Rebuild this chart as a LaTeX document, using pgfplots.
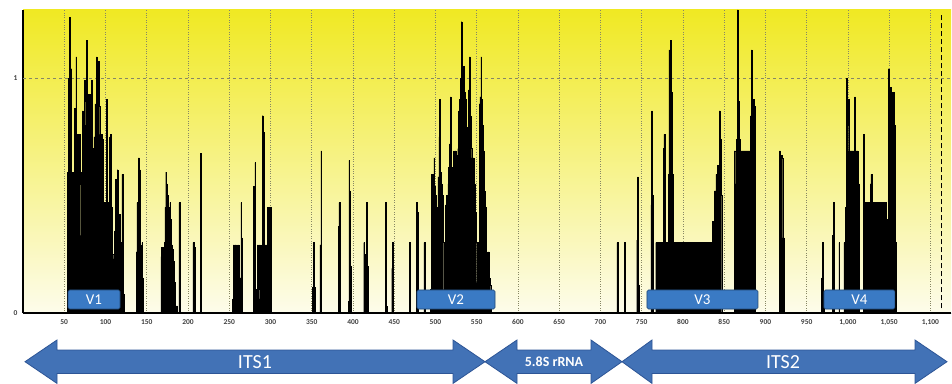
\documentclass[border=0pt]{standalone}
\usepackage{fontspec}
\setmainfont{Carlito}
\usepackage{pgfplots}
\pgfplotsset{compat=1.18}
\definecolor{arrowblue}{RGB}{66,114,182}
\definecolor{arrowedge}{RGB}{45,85,150}
\definecolor{vblue}{RGB}{58,122,196}
\definecolor{ytop}{RGB}{240,233,35}
\definecolor{ybot}{RGB}{253,252,235}
\definecolor{gridc}{RGB}{135,135,100}
\tikzset{vbox/.style={fill=vblue, draw=vblue!60!black, line width=0.6pt, rounded corners=1.5pt},
  vlab/.style={text=white, font=\fontsize{15}{16}\selectfont}}
\begin{document}
\begin{tikzpicture}
\path[use as bounding box] (0pt,0pt) rectangle (952pt,383pt);
\begin{axis}[
  at={(23pt,70pt)}, anchor=south west,
  scale only axis, width=928pt, height=303pt,
  xmin=0, xmax=1125, ymin=0, ymax=1.29,
  axis x line=bottom, axis y line=left,
  axis line style={-, black, line width=1.2pt},
  xtick={50,100,...,1100}, ytick={0,1},
  xmajorgrids, major grid style={gridc, dotted, line width=0.7pt},
  tick style={draw=none},
  ticklabel style={font=\fontsize{7.5}{8}\selectfont\bfseries, text=black!75},
  xticklabel style={yshift=-1pt},
  /pgf/number format/assume math mode=true,
  /pgf/number format/1000 sep={,},
  axis background/.style={top color=ytop, bottom color=ybot},
]
\draw[gridc, dashed, line width=0.7pt] (axis cs:0,1) -- (axis cs:1125,1);
\addplot[const plot mark left, fill=black, draw=black, line width=0.35pt] coordinates {
(0,0) (53,0) (54,0.6) (55,1.0) (56,1.26) (57,1.0) (58,1.04) (59,0.33) (60,0.6) (62,0.87) (63,0.7) (64,1.09) (65,0.76) (69,0.55) (70,0.33) (71,0.6) (72,0.86) (73,0.75) (74,0.99) (75,0.9) (76,0.8) (77,1.16) (78,0.93) (81,0.6) (82,0.93) (83,0.99) (84,0.7) (85,0.6) (86,0.75) (87,0.89) (88,0.8) (89,1.09) (90,0.93) (91,1.07) (92,0.88) (93,0.76) (96,0.74) (97,0.47) (101,0.91) (102,0.47) (105,0.75) (106,0.76) (107,0.45) (108,0.25) (110,0.23) (111,0.35) (112,0.57) (113,0.45) (114,0.61) (115,0.42) (118,0.3) (119,0.08) (120,0.59) (121,0.3) (122,0.08) (123,0)
(137,0.26) (138,0.47) (139,0.29) (140,0.66) (141,0.61) (142,0.29) (143,0.10) (144,0.30) (145,0.15) (146,0)
(167,0.24) (168,0.28) (170,0.18) (171,0.3) (172,0.45) (173,0.6) (174,0.55) (175,0.5) (176,0.45) (177,0.40) (178,0.47) (179,0.40) (180,0.29) (181,0.27) (182,0.22) (183,0.13) (184,0.08) (185,0) (186,0.03) (187,0) (189,0.47) (190,0.36) (191,0)
(206,0.30) (207,0) (208,0.28) (209,0)
(215,0.68) (216.5,0)
(254,0.06) (255,0.29) (256,0.19) (257,0.29) (258,0.19) (259,0.29) (260,0.10) (261,0.29) (262,0.08) (263,0.15) (264,0.47) (265,0.32) (266,0)
(279,0.54) (280,0.2) (281,0.64) (282,0.1) (283,0) (284,0.29) (285,0.1) (286,0.29) (287,0.06) (288,0.29) (289,0.12) (290,0.84) (291,0.77) (292,0.2) (293,0.29) (294,0.1) (295,0.29) (296,0.45) (298,0.10) (299,0.45) (301,0)
(351,0.11) (352,0.30) (353,0.11) (354,0)
(360,0.29) (361,0.69) (362,0)
(382,0.37) (383,0.47) (384,0)
(394,0.05) (395,0.65) (396,0.52) (397,0.2) (398,0)
(413,0.30) (414,0.25) (416,0.47) (417,0.2) (418,0)
(439,0.47) (440,0.03) (441,0)
(447,0.19) (448,0.30) (449,0)
(468,0.30) (469,0)
(477,0.47) (478,0.43) (479,0)
(486,0.30) (487,0.25) (488,0)
(494,0.10) (495,0.59) (496,0.55) (497,0.59) (498,0.66) (499,0.54) (500,0.50) (501,0.45) (502,0.40) (503,0.58) (504,0.75) (505,0.91) (506,0.60) (507,0.55) (508,0.50) (509,0.30) (510,0.10) (511,0.30) (512,0.46) (513,0.50) (514,0.45) (515,0.55) (516,0.62) (517,0.72) (518,0.92) (519,0.62) (520,0.59) (521,0.50) (522,0.69) (523,0.55) (524,0.69) (525,0.60) (526,0.67) (527,0.70) (528,0.86) (529,0.91) (530,1.0) (531,1.24) (532,1.05) (533,0.99) (534,1.05) (535,0.94) (536,0.91) (537,0.79) (538,0.70) (539,0.77) (540,0.95) (541,1.09) (542,0.84) (543,0.70) (544,0.66) (547,0.55) (548,0.43) (549,0.30) (550,0.13) (552,0.3) (553,0.89) (554,0.92) (555,1.09) (556,0.91) (557,0.80) (558,0.69) (559,0.52) (560,0.45) (561,0.30) (562,0.26) (563,0.22) (564,0.26) (565,0.15) (566,0.12) (567,0.05) (568,0)
(720,0.30) (721,0.28) (722,0)
(729,0.30) (730,0)
(744,0.31) (745,0.58) (746,0.12) (747,0)
(761,0.46) (762,0.86) (763,0.5) (764,0)
(767,0.30) (776,0.70) (777,0.76) (778,0.23) (779,0.30) (782,0.59) (783,1.12) (784,0.94) (785,1.16) (786,0.94) (787,0.59) (788,0.30) (836,0.39) (838,0.52) (840,0.59) (842,0.63) (844,0.86) (845,0.74) (846,0.5) (847,0)
(862,0.69) (864,0.55) (865,0.74) (866,1.29) (867,0.9) (868,0.74) (870,0.69) (882,0.84) (883,1.12) (884,0.91) (886,0.88) (888,0)
(917,0.69) (918,0.67) (920,0.66) (921,0.32) (923,0)
(968,0.15) (969,0.30) (970,0.05) (971,0)
(981,0.33) (982,0.47) (983,0)
(989,0.30) (990,0)
(995,0.30) (997,0.45) (998,1.0) (999,0.80) (1000,0.91) (1001,0.69) (1008,0.92) (1009,0.69) (1012,0.55) (1014,0)
(1019,0.76) (1020,0.45) (1021,0.47) (1027,0.55) (1028,0.59) (1029,0.47) (1032,0.25) (1033,0.47) (1036,0.22) (1037,0.47) (1047,0.40) (1049,1.04) (1050,0.96) (1052,0.92) (1054,0.94) (1056,0.80) (1057,0.30) (1059,0) (1125,0)
} \closedcycle;
\draw[black, line width=1pt, dash pattern=on 5pt off 3pt] (axis cs:1113,0.02) -- (axis cs:1113,1.27);
\filldraw[vbox] (axis cs:54.6,0.017) rectangle (axis cs:117.6,0.098);
\node[vlab] at (axis cs:86.1,0.057) {V1};
\filldraw[vbox] (axis cs:477.6,0.017) rectangle (axis cs:572.2,0.098);
\node[vlab] at (axis cs:524.9,0.057) {V2};
\filldraw[vbox] (axis cs:756.4,0.017) rectangle (axis cs:891,0.098);
\node[vlab] at (axis cs:823.7,0.057) {V3};
\filldraw[vbox] (axis cs:971,0.017) rectangle (axis cs:1057,0.098);
\node[vlab] at (axis cs:1014,0.057) {V4};
\end{axis}
\begin{scope}[x=1pt,y=1pt]
\filldraw[fill=arrowblue, draw=arrowedge, line width=0.8pt] (25,21.3) -- (57,43) -- (57,33) -- (453,33) -- (453,43) -- (485,21.3) -- (453,-0.4) -- (453,9.6) -- (57,9.6) -- (57,-0.4) -- cycle;
\filldraw[fill=arrowblue, draw=arrowedge, line width=0.8pt] (485,21.3) -- (517,43) -- (517,33) -- (591,33) -- (591,43) -- (622,21.3) -- (591,-0.4) -- (591,9.6) -- (517,9.6) -- (517,-0.4) -- cycle;
\filldraw[fill=arrowblue, draw=arrowedge, line width=0.8pt] (622,21.3) -- (652,43) -- (652,33) -- (915,33) -- (915,43) -- (947,21.3) -- (915,-0.4) -- (915,9.6) -- (652,9.6) -- (652,-0.4) -- cycle;
\node[text=white, font=\fontsize{20}{22}\selectfont] at (255,21.3) {ITS1};
\node[text=white, font=\fontsize{14}{16}\selectfont\bfseries] at (554,21.3) {5.8S rRNA};
\node[text=white, font=\fontsize{20}{22}\selectfont] at (783,21.3) {ITS2};
\end{scope}
\end{tikzpicture}
\end{document}
